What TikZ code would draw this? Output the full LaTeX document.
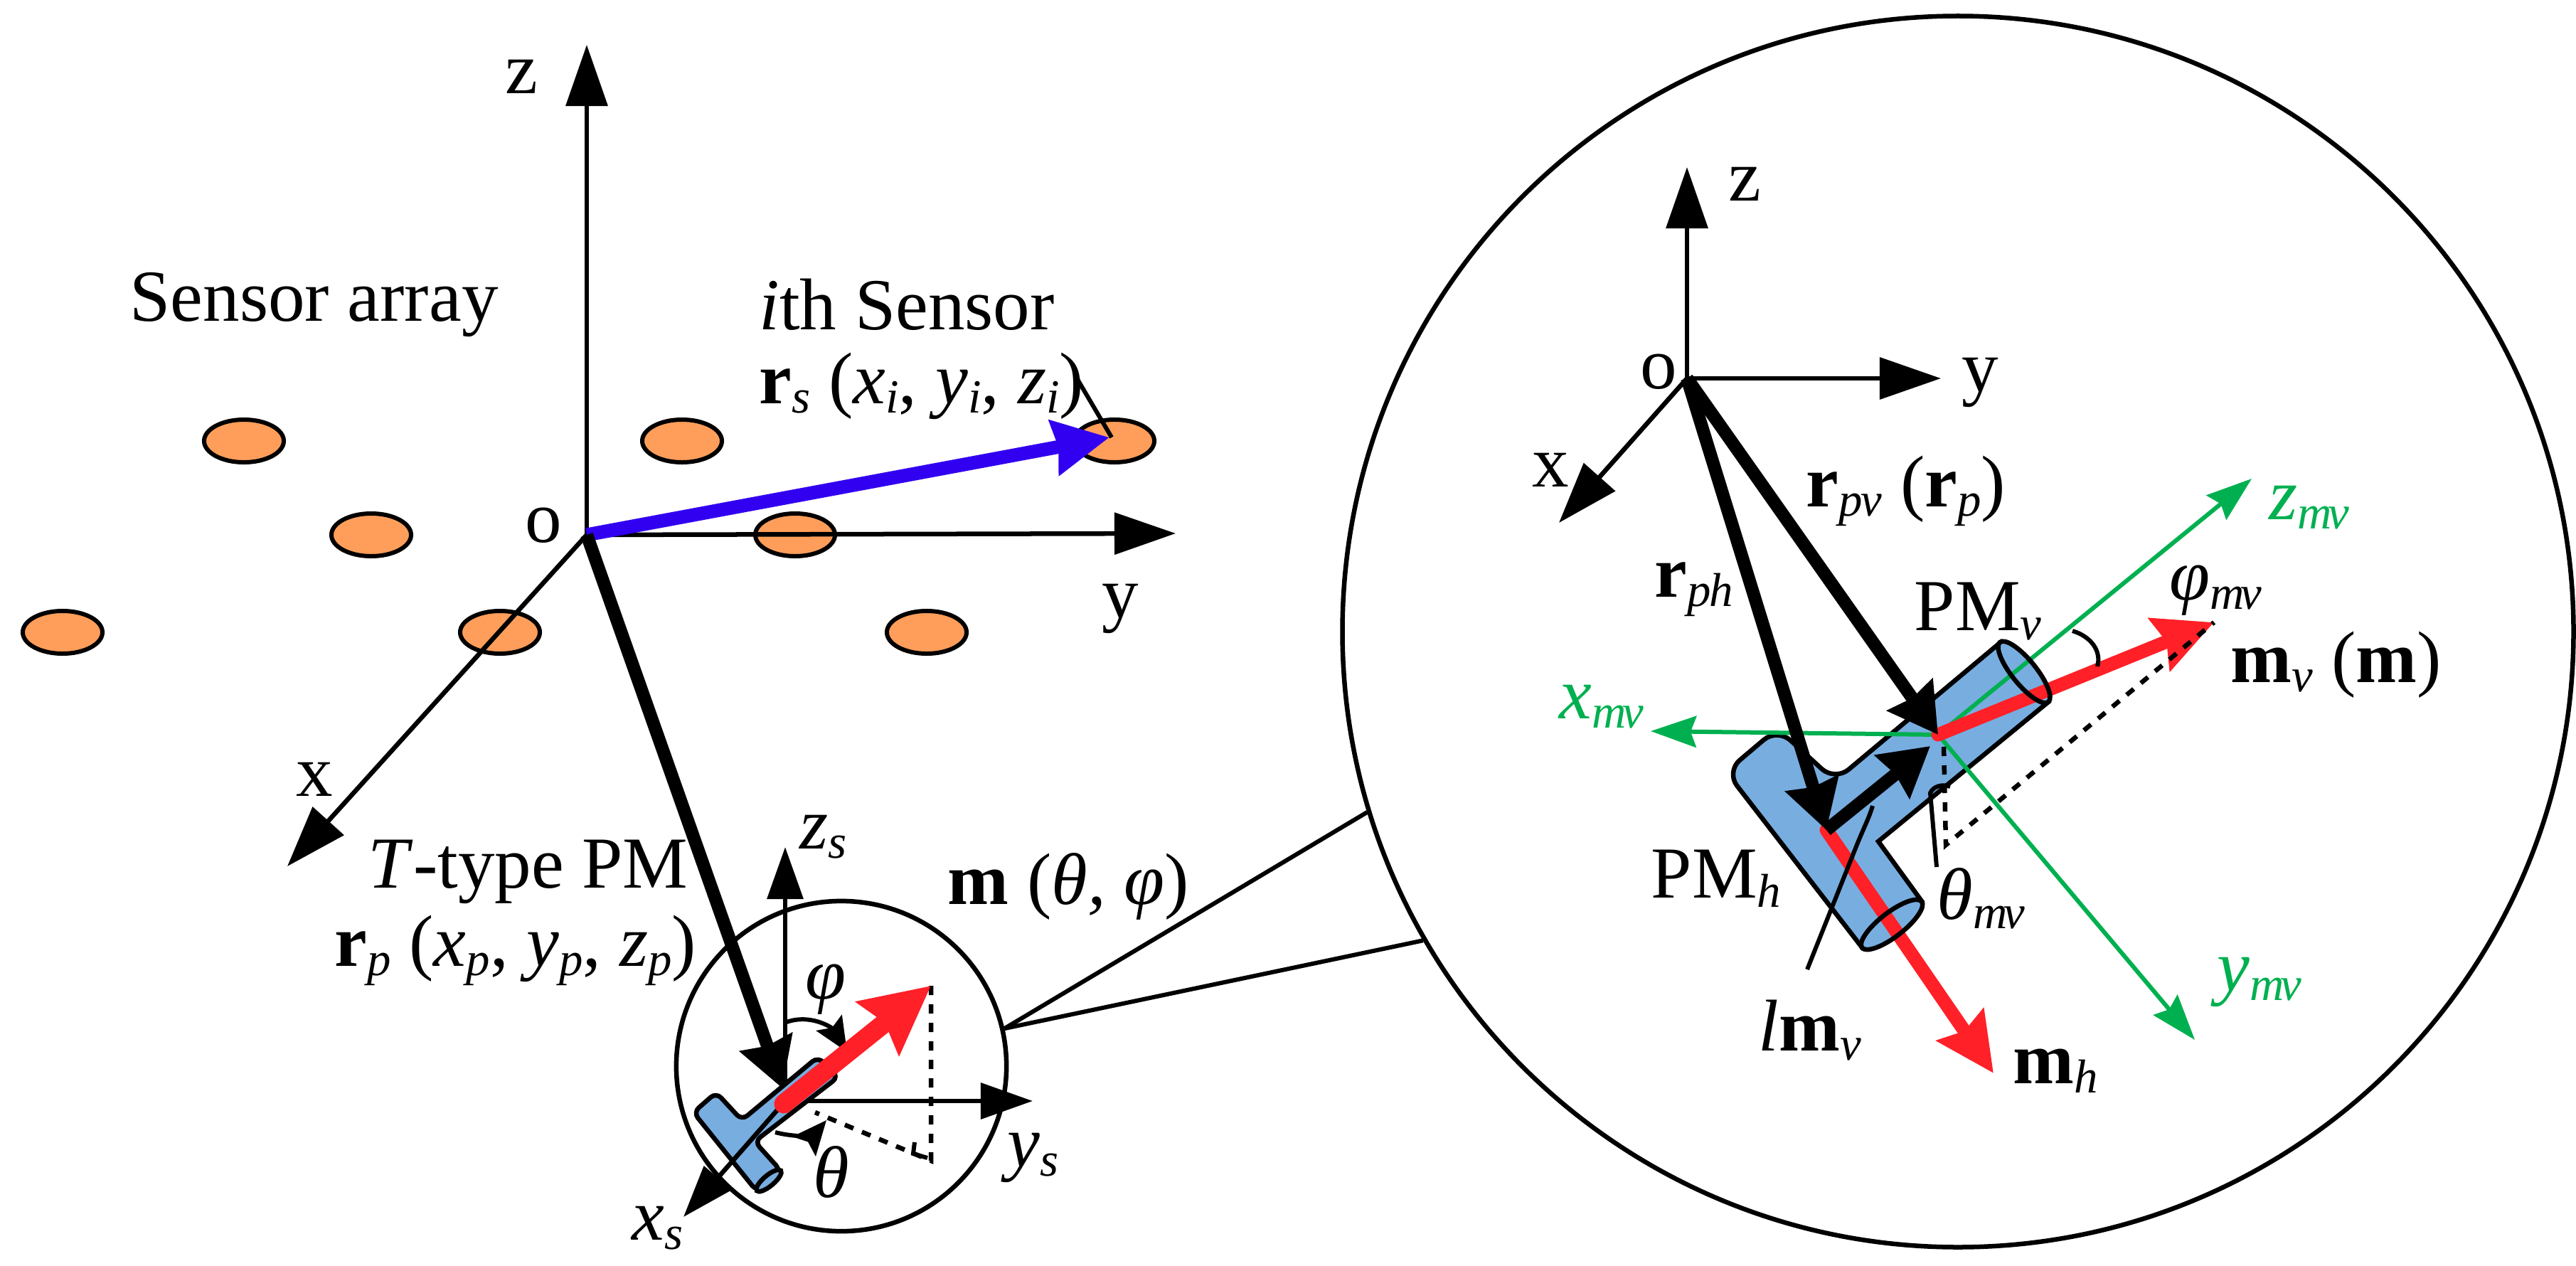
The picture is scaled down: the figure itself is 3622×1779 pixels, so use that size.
\documentclass[tikz,border=0pt]{standalone}
\usepackage{fontspec}
\setmainfont{Liberation Serif}
\usetikzlibrary{arrows.meta,shapes.geometric}
\definecolor{sensorfill}{HTML}{FF9E5A}
\definecolor{pmfill}{HTML}{78ADE0}
\definecolor{vecblue}{HTML}{3200F0}
\definecolor{vecred}{HTML}{FF2028}
\definecolor{axgreen}{HTML}{00B050}
\newcommand{\lowsub}[1]{\raisebox{-0.13em}{\fontsize{19}{19}\selectfont\textit{#1}}}
\newcommand{\subnn}{\lowsub{m\kern-0.08em v}}
\tikzset{
  lbl/.style={anchor=base west, inner sep=0pt, font=\fontsize{29.3}{32}\selectfont},
  sensor/.style={ellipse, draw=black, line width=0.06cm, fill=sensorfill, minimum width=1.12cm, minimum height=0.6cm, inner sep=0pt},
  axis/.style={line width=0.065cm, -{Triangle[length=0.86cm,width=0.58cm]}},
  saxis/.style={line width=0.065cm, -{Triangle[length=0.73cm,width=0.5cm]}},
  thick vec/.style={line width=0.18cm, -{Stealth[inset=0.05cm,length=0.68cm,width=0.76cm]}},
  red vec/.style={draw=vecred, line width=0.19cm, line cap=round, -{Stealth[inset=0.1cm,length=0.82cm,width=0.78cm]}},
  green vec/.style={draw=axgreen, line width=0.06cm, -{Stealth[inset=0.08cm,length=0.64cm,width=0.44cm]}},
  small tip/.style={line width=0.06cm, -{Stealth[inset=0.08cm,length=0.48cm,width=0.42cm]}},
  dashline/.style={line width=0.065cm, dash pattern=on 0.13cm off 0.13cm},
  pm/.style={draw=black, line width=0.065cm, fill=pmfill},
  pmcap/.style={ellipse, draw=black, line width=0.065cm, inner sep=0pt}
}
\begin{document}
\begin{tikzpicture}[x=0.01cm,y=-0.01cm]
  \useasboundingbox (0,0) rectangle (3622,1779);
  % left frame
  \coordinate (o1) at (825,752);
  \coordinate (z1) at (825,63);
  \coordinate (y1) at (1653,750);
  \coordinate (x1) at (404,1218);
  \coordinate (st) at (1560,615);
  \coordinate (sm) at (1513,530);
  \coordinate (sn) at (1563,615);
  \foreach \n/\x/\y in {a/343/620,b/522/752,c/88/889,d/703/889,e/959/620,f/1118/752,g/1303/889,h/1567/620}
    \node[sensor] (s\n) at (\x,\y) {};
  \draw[axis] (o1) -- (z1);
  \draw[axis] (o1) -- (y1);
  \draw[axis] (o1) -- (x1);
  \draw[line width=0.06cm] (sm) -- (sn);
  \draw[draw=vecblue, line width=0.19cm, -{Stealth[inset=0.05cm,length=0.78cm,width=0.76cm]}] (o1) -- (st);
  \node[lbl] (lz1) at (710,132) {z};
  \node[lbl] (lo1) at (738,762) {o};
  \node[lbl] (ly1) at (1549,868) {y};
  \node[lbl] (lx1) at (416,1119) {x};
  \node[lbl] (larr) at (182,451) {Sensor array};
  \node[lbl] (lith) at (1067,463) {\textit{i}th Sensor};
  \node[lbl] (lrs) at (1067,567) {\textbf{r}\lowsub{s} (\textit{x}\lowsub{i}, \textit{y}\lowsub{i}, \textit{z}\lowsub{i})};
  \node[lbl] (ltype) at (517,1248) {\textit{T}-type PM};
  \node[lbl] (lrp) at (470,1358) {\textbf{r}\lowsub{p} (\textit{x}\lowsub{p}, \textit{y}\lowsub{p}, \textit{z}\lowsub{p})};
  \node[lbl] (lm) at (1332,1271) {\textbf{m} (\textit{θ, φ})};

  % small circle with the T magnet
  \node[circle, draw=black, line width=0.065cm, minimum size=4.64cm, inner sep=0pt] (sc) at (1183,1499) {};
  \coordinate (o2) at (1104,1548);
  \coordinate (z2) at (1104,1191);
  \coordinate (y2) at (1452,1548);
  \coordinate (x2) at (961,1711);
  \coordinate (mt) at (1309,1386);
  \coordinate (d2a) at (1309,1632);
  \coordinate (d2b) at (1146,1564);
  \coordinate (p2a) at (1106,1437);
  \coordinate (p2b) at (1191,1479);
  \coordinate (t2a) at (1090,1592);
  \coordinate (t2b) at (1162,1575);
  \draw[saxis] (o2) -- (z2);
  \draw[saxis] (o2) -- (y2);
  \draw[pm, rounded corners=0.1cm] (975,1564) -- (1007,1536) -- (1043,1575) -- (1150,1486) -- (1179,1514) -- (1061,1605) -- (1098,1646) -- (1064,1675) -- cycle;
  \node[pmcap, fill=pmfill, rotate=40, minimum width=0.44cm, minimum height=0.15cm] (c2) at (1081,1660) {};
  \draw[saxis] (o2) -- (x2);
  \draw[dashline] (mt) -- (d2a) -- (d2b);
  \draw[line width=0.06cm] (1286,1606) -- (1284,1622) -- (1304,1628);
  \draw[small tip] (p2a) .. controls (1140,1425) and (1170,1445) .. (p2b);
  \draw[small tip] (t2a) .. controls (1120,1600) and (1145,1595) .. (t2b);
  \draw[thick vec] (o1) -- (1100,1530);
  \draw[draw=vecred, line width=0.27cm, line cap=round, -{Stealth[inset=0.12cm,length=0.95cm,width=0.94cm]}] (1102,1552) -- (mt);
  \node[lbl] (lzs) at (1124,1193) {\textit{z}\lowsub{s}};
  \node[lbl] (lys) at (1416,1640) {\textit{y}\lowsub{s}};
  \node[lbl] (lxs) at (888,1743) {\textit{x}\lowsub{s}};
  \node[lbl] (lphi) at (1132,1404) {\textit{φ}};
  \node[lbl] (lth) at (1143,1683) {\textit{θ}};

  % big circle
  \node[circle, draw=black, line width=0.065cm, minimum size=17.3cm, inner sep=0pt] (bc) at (2753,888) {};
  \draw[line width=0.06cm] (sc.13) -- (bc.197.6);
  \draw[line width=0.06cm] (sc.13) -- (bc.210.9);

  \coordinate (o3) at (2372,532);
  \coordinate (z3) at (2372,235);
  \coordinate (y3) at (2729,532);
  \coordinate (x3) at (2192,735);
  \coordinate (cv) at (2725,1033);
  \coordinate (ch) at (2568,1167);
  \coordinate (zg) at (3166,673);
  \coordinate (xg) at (2321,1028);
  \coordinate (yg) at (3086,1462);
  \coordinate (mv) at (3113,875);
  \coordinate (mh) at (2803,1509);
  \draw[axis] (o3) -- (z3);
  \draw[axis] (o3) -- (y3);
  \draw[axis] (o3) -- (x3);
  \draw[pm, rounded corners=0.25cm] (2427,1085) -- (2499,1024) -- (2580,1098) [sharp corners] -- (2813,903) -- (2880,987) -- (2641,1183) -- (2702,1267) -- (2618,1332) [rounded corners=0.25cm] -- cycle;
  \node[ellipse, fill=pmfill, rotate=-51, minimum width=1.08cm, minimum height=0.34cm, inner sep=0pt] (cv1) at (2846,945) {};
  \node[ellipse, fill=pmfill, rotate=37.7, minimum width=1.06cm, minimum height=0.34cm, inner sep=0pt] (ch1) at (2660,1300) {};
  \draw[green vec] (cv) -- (zg);
  \draw[green vec] (cv) -- (xg);
  \draw[green vec] (cv) -- (yg);
  \draw[red vec] (cv) -- (mv);
  \draw[red vec] (ch) -- (mh);
  \node[pmcap, rotate=-51, minimum width=1.08cm, minimum height=0.34cm] (cv2) at (2846,945) {};
  \node[pmcap, rotate=37.7, minimum width=1.06cm, minimum height=0.34cm] (ch2) at (2660,1300) {};
  \draw[dashline] (2733,1050) -- (2736,1188) -- (mv);
  \draw[line width=0.06cm] (2914,887) .. controls (2940,895) and (2955,915) .. (2949,937);
  \draw[line width=0.06cm] (2723,1219) -- (2714,1115) .. controls (2718,1105) and (2732,1102) .. (2742,1106);
  \draw[line width=0.06cm] (2541,1363) -- (2610,1190) .. controls (2620,1165) and (2628,1150) .. (2633,1133);
  \draw[thick vec] (o3) -- (cv);
  \draw[thick vec] (o3) -- (ch);
  \draw[thick vec] (ch) -- (2714,1049);
  \node[lbl] (lz3) at (2430,282) {z};
  \node[lbl] (ly3) at (2758,550) {y};
  \node[lbl] (lx3) at (2154,684) {x};
  \node[lbl] (lo3) at (2306,546) {o};
  \node[lbl] (lrpv) at (2539,712) {\textbf{r}\lowsub{p\kern-0.03em v} (\textbf{r}\lowsub{p})};
  \node[lbl] (lrph) at (2326,839) {\textbf{r}\lowsub{p\kern-0.03em h}};
  \node[lbl] (lpmv) at (2691,886) {PM\lowsub{v}};
  \node[lbl] (lpmh) at (2321,1262) {PM\lowsub{h}};
  \node[lbl] (lthm) at (2723,1292) {\textit{θ}\subnn};
  \node[lbl] (lphm) at (3050,843) {\textit{φ}\subnn};
  \node[lbl] (llm) at (2472,1477) {\textit{l}\textbf{m}\lowsub{v}};
  \node[lbl] (lmh) at (2830,1523) {\textbf{m}\lowsub{h}};
  \node[lbl] (lmv) at (3136,959) {\textbf{m}\lowsub{v} (\textbf{m})};
  \node[lbl, text=axgreen] (lxg) at (2192,1010) {\textit{x}\subnn};
  \node[lbl, text=axgreen] (lzg) at (3190,730) {\textit{z}\subnn};
  \node[lbl, text=axgreen] (lyg) at (3117,1393) {\textit{y}\subnn};
\end{tikzpicture}
\end{document}
